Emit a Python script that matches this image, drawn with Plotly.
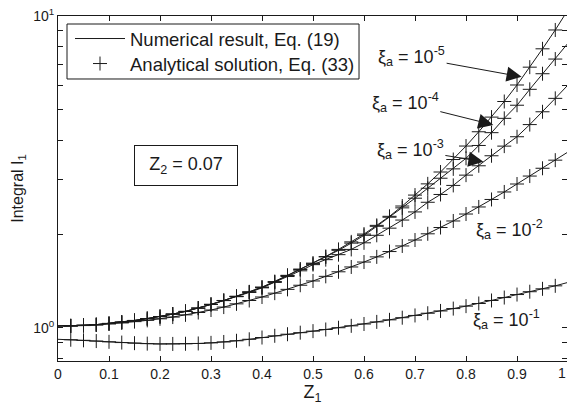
import plotly.graph_objects as go

# Z1 sample positions
z1 = [0.0, 0.025, 0.05, 0.075, 0.1, 0.125, 0.15, 0.175, 0.2, 0.225,
      0.25, 0.275, 0.3, 0.325, 0.35, 0.375, 0.4, 0.425, 0.45, 0.475,
      0.5, 0.525, 0.55, 0.575, 0.6, 0.625, 0.65, 0.675, 0.7, 0.725,
      0.75, 0.775, 0.8, 0.825, 0.85, 0.875, 0.9, 0.925, 0.95, 0.975, 1.0]

# Integral I1 for each xi_a
i1_xi_1e5 = [1.015, 1.016, 1.020, 1.025, 1.034, 1.044, 1.057, 1.072, 1.088, 1.108,
             1.130, 1.158, 1.190, 1.225, 1.263, 1.305, 1.352, 1.408, 1.475, 1.545,
             1.614, 1.694, 1.786, 1.888, 2.000, 2.133, 2.280, 2.460, 2.667, 2.897,
             3.162, 3.467, 3.830, 4.256, 4.742, 5.320, 6.010, 6.855, 7.850, 9.020, 10.47]
i1_xi_1e4 = [1.015, 1.016, 1.020, 1.025, 1.034, 1.044, 1.057, 1.072, 1.088, 1.108,
             1.130, 1.158, 1.190, 1.225, 1.263, 1.305, 1.350, 1.405, 1.472, 1.540,
             1.607, 1.690, 1.774, 1.871, 1.982, 2.118, 2.265, 2.427, 2.606, 2.805,
             3.020, 3.236, 3.499, 3.846, 4.227, 4.699, 5.176, 5.821, 6.531, 7.278, 8.185]
i1_xi_1e3 = [1.015, 1.016, 1.020, 1.025, 1.034, 1.044, 1.057, 1.072, 1.088, 1.108,
             1.130, 1.158, 1.190, 1.224, 1.260, 1.300, 1.345, 1.400, 1.462, 1.525,
             1.596, 1.656, 1.718, 1.786, 1.875, 1.982, 2.089, 2.218, 2.355, 2.529,
             2.679, 2.864, 3.090, 3.311, 3.565, 3.828, 4.102, 4.487, 4.932, 5.445, 6.012]
i1_xi_1e2 = [1.015, 1.015, 1.018, 1.023, 1.030, 1.038, 1.048, 1.058, 1.070, 1.084,
             1.102, 1.121, 1.142, 1.167, 1.195, 1.225, 1.257, 1.293, 1.330, 1.371,
             1.415, 1.464, 1.514, 1.569, 1.627, 1.690, 1.758, 1.832, 1.914, 2.004,
             2.099, 2.203, 2.319, 2.443, 2.582, 2.729, 2.894, 3.069, 3.251, 3.451, 3.666]
i1_xi_1e1 = [0.920, 0.917, 0.913, 0.908, 0.903, 0.898, 0.894, 0.891, 0.889, 0.889,
             0.890, 0.892, 0.896, 0.902, 0.910, 0.920, 0.932, 0.944, 0.955, 0.966,
             0.977, 0.989, 1.002, 1.016, 1.030, 1.046, 1.062, 1.079, 1.097, 1.115,
             1.134, 1.154, 1.175, 1.198, 1.225, 1.252, 1.280, 1.307, 1.335, 1.365, 1.400]

series = [i1_xi_1e5, i1_xi_1e4, i1_xi_1e3, i1_xi_1e2, i1_xi_1e1]

x_tick_vals = [0, 0.1, 0.2, 0.3, 0.4, 0.5, 0.6, 0.7, 0.8, 0.9]
x_tick_text = ["0", "0.1", "0.2", "0.3", "0.4", "0.5", "0.6", "0.7", "0.8", "0.9"]
y_tick_vals = [0.8, 0.9, 1, 2, 3, 4, 5, 6, 7, 8, 9, 10]
y_tick_text = ["", "", "10<sup>0</sup>", "", "", "", "", "", "", "", "", "10<sup>1</sup>"]

FONT = "Liberation Sans, Arial, Helvetica, sans-serif"
INK = "#1a1a1a"

fig = go.Figure()
for k, vals in enumerate(series):
    fig.add_trace(go.Scatter(
        x=z1, y=vals, mode="lines",
        line=dict(color=INK, width=1),
        name="Numerical result, Eq. (19)", legend="legend",
        showlegend=(k == 0), hoverinfo="skip"))
for k, vals in enumerate(series):
    fig.add_trace(go.Scatter(
        x=z1[1:40], y=vals[1:40], mode="markers",
        marker=dict(symbol="cross-thin", size=10, color=INK,
                    line=dict(width=1, color=INK)),
        name="Analytical solution, Eq. (33)", legend="legend2",
        showlegend=(k == 0), hoverinfo="skip"))
# helper trace for mirrored (top / right) tick axes
fig.add_trace(go.Scatter(x=[None], y=[None], xaxis="x2", yaxis="y2",
                         showlegend=False, hoverinfo="skip"))

xr = [0, 0.998]
yr = [-0.1058, 1.0]

legend_common = dict(xanchor="left", yanchor="top", borderwidth=0,
                     bgcolor="rgba(0,0,0,0)",
                     font=dict(size=18.5, family=FONT, color=INK),
                     itemwidth=50)

fig.update_layout(
    width=567, height=416,
    margin=dict(l=58, r=0, t=16, b=55),
    paper_bgcolor="white", plot_bgcolor="white",
    font=dict(family=FONT, size=14, color=INK),
    showlegend=True,
    legend=dict(x=0.0236, y=0.9884, **legend_common),
    legend2=dict(x=0.0236, y=0.9159, **legend_common),
    xaxis=dict(range=xr, tickvals=x_tick_vals, ticktext=x_tick_text,
               ticks="inside", ticklen=5, tickcolor=INK,
               showline=True, linecolor=INK, linewidth=1,
               showgrid=False, zeroline=False, automargin=False,
               tickfont=dict(size=14),
               title=dict(text="Z<sub>1</sub>", font=dict(size=18), standoff=4)),
    yaxis=dict(type="log", range=yr, tickvals=y_tick_vals, ticktext=y_tick_text,
               ticks="inside", ticklen=5, tickcolor=INK,
               showline=True, linecolor=INK, linewidth=1,
               showgrid=False, zeroline=False, automargin=False,
               tickfont=dict(size=14),
               title=dict(text="Integral I<sub>1</sub>", font=dict(size=16), standoff=5)),
    xaxis2=dict(overlaying="x", side="top", anchor="y", range=xr,
                tickvals=x_tick_vals, ticks="inside", ticklen=5, tickcolor=INK,
                showticklabels=False, showline=True, linecolor=INK, linewidth=1,
                showgrid=False, zeroline=False, automargin=False),
    yaxis2=dict(overlaying="y", side="right", anchor="x", type="log", range=yr,
                tickvals=y_tick_vals, ticks="inside", ticklen=5, tickcolor=INK,
                showticklabels=False, showline=False,
                showgrid=False, zeroline=False, automargin=False),
)

# frame around the two legend entries
fig.add_shape(type="rect", xref="paper", yref="paper",
              x0=0.0177, x1=0.5914, y0=0.8174, y1=0.9768,
              line=dict(color=INK, width=1), fillcolor="rgba(0,0,0,0)", layer="above")

# annotation positions on the log axis are given in log10 units
label_font = dict(family=FONT, size=18, color=INK)
arrow_labels = [
    ("ξ<sub>a</sub> = 10<sup>-5</sup>", 0.909, 0.805, -110, -20),
    ("ξ<sub>a</sub> = 10<sup>-4</sup>", 0.8535, 0.651, -88, -22),
    ("ξ<sub>a</sub> = 10<sup>-3</sup>", 0.834, 0.533, -73, -12),
]
for text, x, ly, ax, ay in arrow_labels:
    fig.add_annotation(x=x, y=ly, xref="x", yref="y", text=text, font=label_font,
                       showarrow=True, ax=ax, ay=ay, arrowhead=2, arrowsize=3,
                       arrowwidth=1, arrowcolor=INK, standoff=0)

plain_labels = [
    ("ξ<sub>a</sub> = 10<sup>-2</sup>", 0.886, 0.317),
    ("ξ<sub>a</sub> = 10<sup>-1</sup>", 0.880, 0.026),
]
for text, x, ly in plain_labels:
    fig.add_annotation(x=x, y=ly, xref="x", yref="y", text=text, font=label_font,
                       showarrow=False)

fig.add_annotation(x=0.251, y=0.521, xref="x", yref="y",
                   text="Z<sub>2</sub> = 0.07", font=dict(family=FONT, size=18, color=INK),
                   showarrow=False, bordercolor=INK, borderwidth=1,
                   width=100, height=37, borderpad=1, bgcolor="white")

# clipped "1" tick label at the right edge
fig.add_annotation(x=1.002, y=0, xref="paper", yref="paper", text="1",
                   font=dict(family=FONT, size=14, color=INK),
                   showarrow=False, yanchor="middle", yshift=-12)

fig.write_html("out.html", config={"displayModeBar": False},
               post_script="document.body.style.margin='0px';")
